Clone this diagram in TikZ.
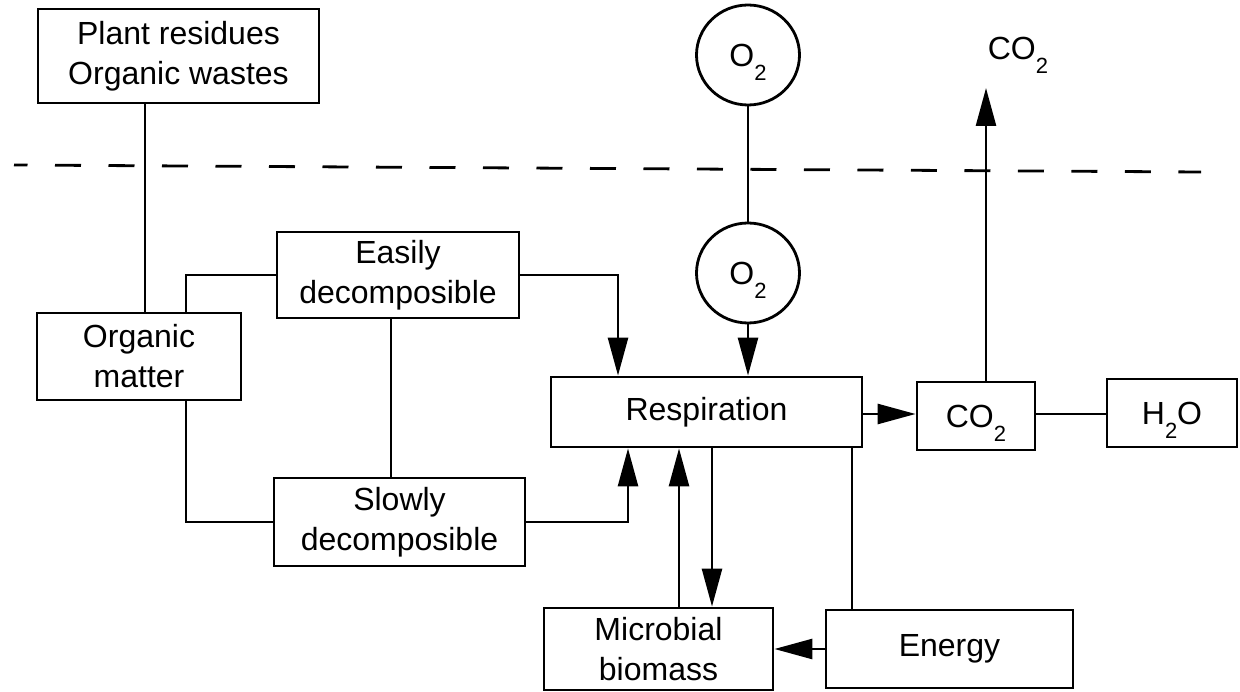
\documentclass[tikz,border=0pt]{standalone}
\usepackage{fontspec}
\setmainfont{Liberation Sans}
\usetikzlibrary{arrows.meta,shapes.geometric}
\newcommand{\subtwo}{\raisebox{-14pt}[0pt][0pt]{\fontsize{22pt}{22pt}\selectfont 2}}
\begin{document}
\begin{tikzpicture}[x=1pt,y=-1pt,
  box/.style={draw, line width=2.8pt, rectangle, inner sep=0pt, align=center,
    font=\fontsize{32pt}{40pt}\selectfont},
  oval/.style={draw, line width=2.8pt, ellipse, inner sep=0pt,
    minimum width=103pt, minimum height=100pt, font=\fontsize{32pt}{40pt}\selectfont},
  lbl/.style={inner sep=0pt, font=\fontsize{32pt}{40pt}\selectfont},
  conn/.style={line width=2.6pt},
  arr/.style={conn, -{Triangle[length=38pt,width=20pt]}},
  dashline/.style={line width=2.8pt, dash pattern=on 26pt off 27.5pt, dash phase=12.5pt}]
\useasboundingbox (0,0) rectangle (1240,692);
% nodes
\node[box, minimum width=281pt, minimum height=94pt] (plant) at (178.5,56) {Plant residues\\Organic wastes};
\node[box, minimum width=204pt, minimum height=87pt] (organic) at (139,356.5) {Organic\\matter};
\node[box, minimum width=242pt, minimum height=86pt] (easy) at (398,275) {Easily\\decomposible};
\node[box, minimum width=251pt, minimum height=88pt] (slow) at (399.5,522) {Slowly\\decomposible};
\node[box, minimum width=311pt, minimum height=70pt] (resp) at (706.5,412) {Respiration};
\node[box, minimum width=118pt, minimum height=68pt] (co2) at (976,416) {CO\subtwo};
\node[box, minimum width=130pt, minimum height=68pt] (h2o) at (1172,413) {H\subtwo O};
\node[box, minimum width=229pt, minimum height=82pt] (micro) at (658.5,649) {Microbial\\biomass};
\node[box, minimum width=247pt, minimum height=78pt] (energy) at (949.5,649) {Energy};
\node[oval] (o2a) at (748,55) {O\subtwo};
\node[oval] (o2b) at (748,273) {O\subtwo};
\node[lbl] (co2lbl) at (1018,48) {CO\subtwo};
% helper coordinates
\coordinate (xA) at (145,0);
\coordinate (xB) at (186,0);
\coordinate (xC) at (618,0);
\coordinate (xD) at (391,0);
\coordinate (xE) at (628,0);
\coordinate (xF) at (679,0);
\coordinate (xG) at (712,0);
\coordinate (xH) at (852,0);
\coordinate (xI) at (986,0);
\coordinate (yR) at (0,414);
\coordinate (co2tip) at (986,88);
\coordinate (dl1) at (14,165);
\coordinate (dl2) at (1201,172);
% dashed boundary
\draw[dashline] (dl1) -- (dl2);
% connectors
\draw[conn] (xA |- plant.south) -- (xA |- organic.north);
\draw[conn] (easy.west) -| (xB |- organic.north);
\draw[arr] (easy.east) -| (xC |- resp.north);
\draw[conn] (xD |- easy.south) -- (xD |- slow.north);
\draw[conn] (xB |- organic.south) |- (slow.west);
\draw[arr] (slow.east) -| (xE |- resp.south);
\draw[conn] (o2a.south) -- (o2b.north);
\draw[arr] (o2b.south) -- (o2b.south |- resp.north);
\draw[arr] (resp.east |- yR) -- (co2.west |- yR);
\draw[arr] (xI |- co2.north) -- (co2tip);
\draw[conn] (co2.east |- yR) -- (h2o.west |- yR);
\draw[arr] (xF |- micro.north) -- (xF |- resp.south);
\draw[arr] (xG |- resp.south) -- (xG |- micro.north);
\draw[conn] (xH |- resp.south) -- (xH |- energy.north);
\draw[arr] (energy.west) -- (micro.east);
\end{tikzpicture}
\end{document}
